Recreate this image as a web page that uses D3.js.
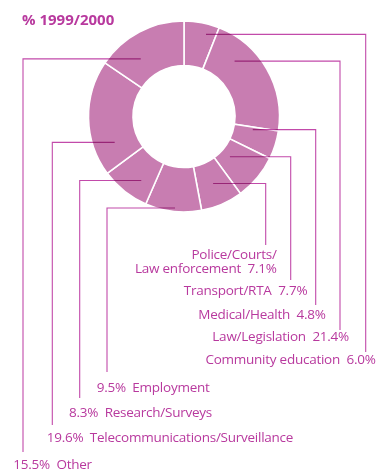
<!DOCTYPE html>
<html>
<head>
<meta charset="utf-8">
<script src="https://cdn.jsdelivr.net/npm/d3@7"></script>
<style>
  html, body { margin: 0; padding: 0; background: #fff; }
  svg { display: block; }
  text { font-family: "Open Sans", "Noto Sans", sans-serif; }
</style>
</head>
<body>
<svg id="chart" width="381" height="472"></svg>
<script>
// Funding share by area, 1999/2000 (clockwise from 12 o'clock)
const categories = [
  "Community education", "Law/Legislation", "Medical/Health", "Transport/RTA",
  "Police/Courts/Law enforcement", "Employment", "Research/Surveys",
  "Telecommunications/Surveillance", "Other"
];
const values = [6.0, 21.4, 4.8, 7.7, 7.1, 9.5, 8.3, 19.6, 15.5];
const title = "% 1999/2000";

// Label text lines per category (value inserted with formatter)
const labelLines = [
  v => ["Community education  " + v],
  v => ["Law/Legislation  " + v],
  v => ["Medical/Health  " + v],
  v => ["Transport/RTA  " + v],
  v => ["Police/Courts/", "Law enforcement  " + v],
  v => [v + "  Employment"],
  v => [v + "  Research/Surveys"],
  v => [v + "  Telecommunications/Surveillance"],
  v => [v + "  Other"]
];

// Leader layout: anchor inside ring (angle deg, radius), vertical run x, run end y,
// label x, label baseline y, anchor side
const leaders = [
  { ang: 15.0,  r: 85, x: 365.7, y2: 352, lx: 375.7, ly: 364, side: "end" },
  { ang: 42.4,  r: 75, x: 340,   y2: 330, lx: 349,   ly: 341, side: "end" },
  { ang: 100.8, r: 70, x: 315.7, y2: 305, lx: 325.7, ly: 319, side: "end" },
  { ang: 131.2, r: 61, x: 290.7, y2: 280, lx: 307.3, ly: 295, side: "end" },
  { ang: 156.5, r: 73, x: 265.7, y2: 245, lx: 276.7, ly: 259, side: "end" },
  { ang: 185.6, r: 92, x: 107,   y2: 372, lx: 96.7,  ly: 392, side: "start" },
  { ang: 213.7, r: 77, x: 79.7,  y2: 398, lx: 69,    ly: 417, side: "start" },
  { ang: 249.5, r: 74, x: 52.3,  y2: 425, lx: 46.7,  ly: 442, side: "start" },
  { ang: 323.1, r: 72, x: 23,    y2: 452, lx: 13.3,  ly: 469, side: "start" }
];

const cx = 184, cy = 116.5, outerR = 95.5, innerR = 51;
const ringColor = "#C87DB1", inkColor = "#B8399E", lineColor = "#C24AAA";

const svg = d3.select("#chart");

svg.append("text")
  .attr("x", 22).attr("y", 25)
  .attr("fill", inkColor)
  .attr("font-weight", 700)
  .attr("font-size", 15)
  .text(title);

const pie = d3.pie().sort(null).value(d => d)(values);
const arc = d3.arc().innerRadius(innerR).outerRadius(outerR);

const g = svg.append("g").attr("transform", `translate(${cx},${cy})`);
g.selectAll("path.seg")
  .data(pie)
  .join("path")
  .attr("class", "seg")
  .attr("d", arc)
  .attr("fill", ringColor)
  .attr("stroke", "#fff")
  .attr("stroke-width", 1.6);

const fmt = d3.format(".1f");

// Leader lines: horizontal from inside the ring, then vertical down toward label
leaders.forEach((L, i) => {
  const [px, py] = d3.pointRadial(L.ang * Math.PI / 180, L.r);
  const x0 = cx + px, y0 = cy + py;
  svg.append("path")
    .attr("d", d3.line()([[x0, y0], [L.x, y0], [L.x, L.y2]]))
    .attr("fill", "none")
    .attr("stroke", lineColor)
    .attr("stroke-width", 1.1)
    .style("mix-blend-mode", "multiply");

  const lines = labelLines[i](fmt(values[i]) + "%");
  const t = svg.append("text")
    .attr("fill", inkColor)
    .attr("font-size", 13.5)
    .attr("letter-spacing", -0.25)
    .attr("text-anchor", L.side)
    .style("white-space", "pre");
  lines.forEach((s, k) => {
    t.append("tspan")
      .attr("x", L.lx)
      .attr("y", L.ly + k * 14)
      .text(s);
  });
});
</script>
</body>
</html>
